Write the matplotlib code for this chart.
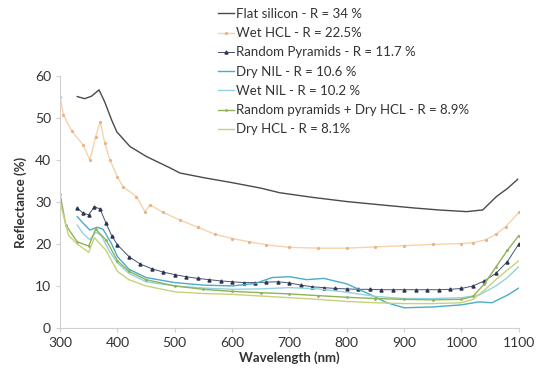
import numpy as np
import matplotlib
matplotlib.use("Agg")
import matplotlib.pyplot as plt

plt.rcParams['font.family'] = ['Lato', 'DejaVu Sans']

# ---- data ----
flat_wl = [330, 343, 355, 368, 378, 390, 399, 422, 451, 492, 509, 550, 600, 650, 683, 740, 800, 860,
           915, 960, 1009, 1037, 1061, 1080, 1098]
flat_r = [55.1, 54.6, 55.2, 56.7, 53.8, 49.5, 46.7, 43.2, 40.8, 38.1, 36.9, 35.8, 34.6, 33.3, 32.2, 31.1,
          30.1, 29.3, 28.6, 28.1, 27.7, 28.1, 31.3, 33.2, 35.4]

wethcl_wl = [300, 306, 320, 340, 352, 362, 370, 378, 387, 400, 410, 433, 448, 457, 480, 509, 540, 570,
             600, 630, 660, 700, 750, 800, 850, 900, 950, 1000, 1020, 1042, 1060, 1077, 1100]
wethcl_r = [55.0, 50.7, 47.0, 43.6, 40.0, 45.5, 49.1, 44.0, 40.0, 36.0, 33.6, 31.3, 27.7, 29.3, 27.5,
            25.7, 24.0, 22.3, 21.3, 20.5, 19.8, 19.2, 19.0, 19.0, 19.3, 19.6, 19.9, 20.1, 20.3, 21.0,
            22.3, 24.1, 27.5]

rp_wl = [330, 340, 350, 360, 370, 380, 390, 400, 420, 440, 460, 480, 500, 520, 540, 560, 580, 600, 620,
         640, 660, 680, 700, 720, 740, 760, 780, 800, 820, 840, 860, 880, 900, 920, 940, 960, 980, 1000,
         1020, 1040, 1060, 1080, 1100]
rp_r = [28.5, 27.4, 26.9, 28.9, 28.3, 25.0, 22.0, 19.8, 17.0, 15.2, 14.1, 13.3, 12.7, 12.2, 11.8, 11.5,
        11.2, 11.0, 10.8, 10.8, 10.9, 11.0, 10.7, 10.2, 9.8, 9.6, 9.4, 9.3, 9.2, 9.2, 9.1, 9.1, 9.1, 9.1,
        9.1, 9.1, 9.2, 9.4, 10.0, 11.2, 13.0, 15.8, 20.0]

drynil_wl = [330, 340, 352, 365, 375, 390, 400, 420, 450, 500, 550, 600, 640, 670, 700, 730, 760, 800,
             840, 870, 900, 950, 1000, 1030, 1053, 1080, 1100]
drynil_r = [26.5, 25.0, 23.3, 24.0, 23.5, 20.0, 17.0, 14.0, 12.0, 10.8, 10.2, 10.0, 10.6, 12.0, 12.2,
            11.5, 11.8, 10.5, 8.0, 6.0, 4.8, 5.0, 5.5, 6.2, 6.0, 7.8, 9.5]

wetnil_wl = [330, 340, 352, 362, 372, 385, 400, 420, 450, 500, 550, 600, 650, 700, 750, 800, 850, 900,
             950, 1000, 1030, 1060, 1080, 1100]
wetnil_r = [24.5, 22.5, 21.0, 22.8, 22.0, 18.5, 15.5, 13.0, 11.0, 10.0, 9.5, 9.2, 9.3, 9.6, 9.3, 8.5,
            7.5, 7.0, 7.0, 7.2, 7.8, 10.0, 12.0, 14.6]

rpdry_wl = [300, 310, 330, 350, 362, 380, 400, 420, 450, 500, 550, 600, 650, 700, 750, 800, 850, 900,
            950, 1000, 1020, 1040, 1060, 1080, 1100]
rpdry_r = [32.0, 24.5, 20.5, 19.5, 23.5, 21.0, 16.0, 13.5, 11.5, 10.0, 9.2, 8.7, 8.4, 8.1, 7.7, 7.3,
           7.0, 6.8, 6.7, 6.8, 7.5, 10.5, 14.5, 18.5, 22.0]

dryhcl_wl = [300, 315, 330, 350, 360, 380, 400, 420, 450, 500, 550, 600, 650, 700, 750, 800, 850, 900,
             950, 1000, 1020, 1040, 1060, 1080, 1100]
dryhcl_r = [30.0, 22.0, 20.0, 18.0, 21.5, 18.5, 13.5, 11.5, 10.0, 8.6, 8.2, 8.0, 7.6, 7.2, 6.8, 6.3,
            6.0, 5.8, 5.8, 6.0, 6.8, 9.0, 11.5, 13.8, 16.0]

labels = ["Flat silicon - R = 34 %", "Wet HCL - R = 22.5%", "Random Pyramids - R = 11.7 %",
          "Dry NIL - R = 10.6 %", "Wet NIL - R = 10.2 %", "Random pyramids + Dry HCL - R = 8.9%",
          "Dry HCL - R = 8.1%"]

fig = plt.figure(figsize=(5.36, 3.80), dpi=100)
ax = fig.add_axes([0.112, 0.137, 0.856, 0.663])

lines = []
lines += ax.plot(flat_wl, flat_r, color='#4a4a4a', lw=1.0)
lines += ax.plot(wethcl_wl, wethcl_r, color='#f8d2aa', lw=1.0, marker='o', ms=1.3, mec='#e6b48a', mfc='#e6b48a')
lines += ax.plot(rp_wl, rp_r, color='#4a5470', lw=0.7, marker='^', ms=2.2, mec='#2e3550', mfc='#2e3550')
lines += ax.plot(drynil_wl, drynil_r, color='#4bacc6', lw=1.0)
lines += ax.plot(wetnil_wl, wetnil_r, color='#93d3dc', lw=1.0)
lines += ax.plot(rpdry_wl, rpdry_r, color='#8fb25a', lw=1.0, marker='o', ms=1.0, mec='#8fb25a')
lines += ax.plot(dryhcl_wl, dryhcl_r, color='#c4d37a', lw=1.0)

ax.set_xlim(300, 1100)
ax.set_ylim(0, 60)
ax.set_xticks(np.arange(300, 1101, 100))
ax.set_yticks(np.arange(0, 61, 10))
for s in ['top', 'right']:
    ax.spines[s].set_visible(False)
for s in ['left', 'bottom']:
    ax.spines[s].set_color('#d0d0d0')
ax.tick_params(colors='#d0d0d0', labelcolor='#333333', labelsize=10, length=3, width=0.8)
ax.set_xlabel('Wavelength (nm)', fontsize=9.5, fontweight='bold', color='#333333', labelpad=2)
ax.set_ylabel('Reflectance (%)', fontsize=9.5, fontweight='bold', color='#333333', labelpad=6)

fig.legend(lines, labels, loc='upper left', bbox_to_anchor=(0.392, 1.0), frameon=False,
           fontsize=9.5, handlelength=1.2, handletextpad=0.15, labelspacing=0.55,
           borderaxespad=0.2, labelcolor='#333333')

fig.savefig('out.png', dpi=100)
